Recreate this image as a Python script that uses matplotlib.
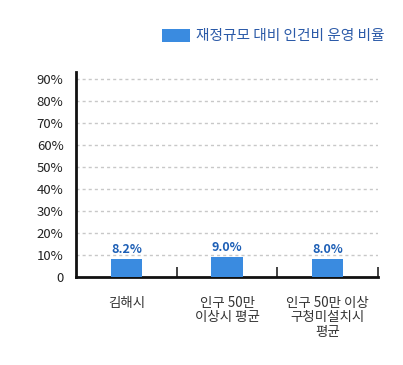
import matplotlib
matplotlib.use("Agg")
import matplotlib.pyplot as plt
import matplotlib.patches as mpatches

plt.rcParams['font.family'] = ['Noto Sans CJK KR', 'DejaVu Sans']
plt.rcParams['hatch.color'] = '#5aa2ea'
plt.rcParams['hatch.linewidth'] = 0.5

categories = ['김해시', '인구 50만\n이상시 평균', '인구 50만 이상\n구청미설치시\n평균']
values = [8.2, 9.0, 8.0]
value_labels = ['8.2%', '9.0%', '8.0%']
yticks = [0, 10, 20, 30, 40, 50, 60, 70, 80, 90]
ytick_labels = ['0', '10%', '20%', '30%', '40%', '50%', '60%', '70%', '80%', '90%']
legend_label = '재정규모 대비 인건비 운영 비율'

bar_color = '#3a8be0'
label_color = '#1d5fb6'

fig = plt.figure(figsize=(4.03, 3.65), dpi=100)
ax = fig.add_axes([76/403, 1-277/365, (378-76)/403, (277-72)/365])

x = list(range(len(categories)))
ax.bar(x, values, width=0.31, color=bar_color, hatch='xxxxx', edgecolor='none', linewidth=0, zorder=3)
for xi, v, lab in zip(x, values, value_labels):
    ax.text(xi, v + 1.5, lab, ha='center', va='bottom', fontsize=9, fontweight='bold', color=label_color, zorder=4)

ax.set_xlim(-0.5, len(categories) - 0.5)
ax.set_ylim(0, 93)
ax.set_yticks(yticks)
ax.set_yticklabels(ytick_labels, fontsize=9.5, color='#222222')
for t in yticks[1:]:
    ax.axhline(t, color='#c8c8c8', linestyle=(0, (2.2, 2.2)), linewidth=1.0, zorder=1)

ax.set_xticks([i + 0.5 for i in x])
ax.set_xticklabels([])
ax.tick_params(axis='x', direction='in', length=7, width=1.2, color='#222222')
ax.tick_params(axis='y', length=0, pad=9)
for xi, c in zip(x, categories):
    ax.text(xi, -8.5, c, ha='center', va='top', fontsize=9.7, color='#333333', linespacing=1.05)

for s in ['top', 'right']:
    ax.spines[s].set_visible(False)
ax.spines['left'].set_linewidth(2)
ax.spines['bottom'].set_linewidth(2)
ax.spines['left'].set_color('#111111')
ax.spines['bottom'].set_color('#111111')

handle = mpatches.Patch(facecolor=bar_color, hatch='xxxxx', edgecolor='none', label=legend_label)
fig.legend(handles=[handle], loc='center left', bbox_to_anchor=(152/403, 1-36/365), frameon=False,
           fontsize=10.6, handlelength=1.9, handleheight=1.0, handletextpad=0.4, labelcolor='#2b5aa8',
           borderpad=0.2)

fig.savefig('out.png', dpi=100)
